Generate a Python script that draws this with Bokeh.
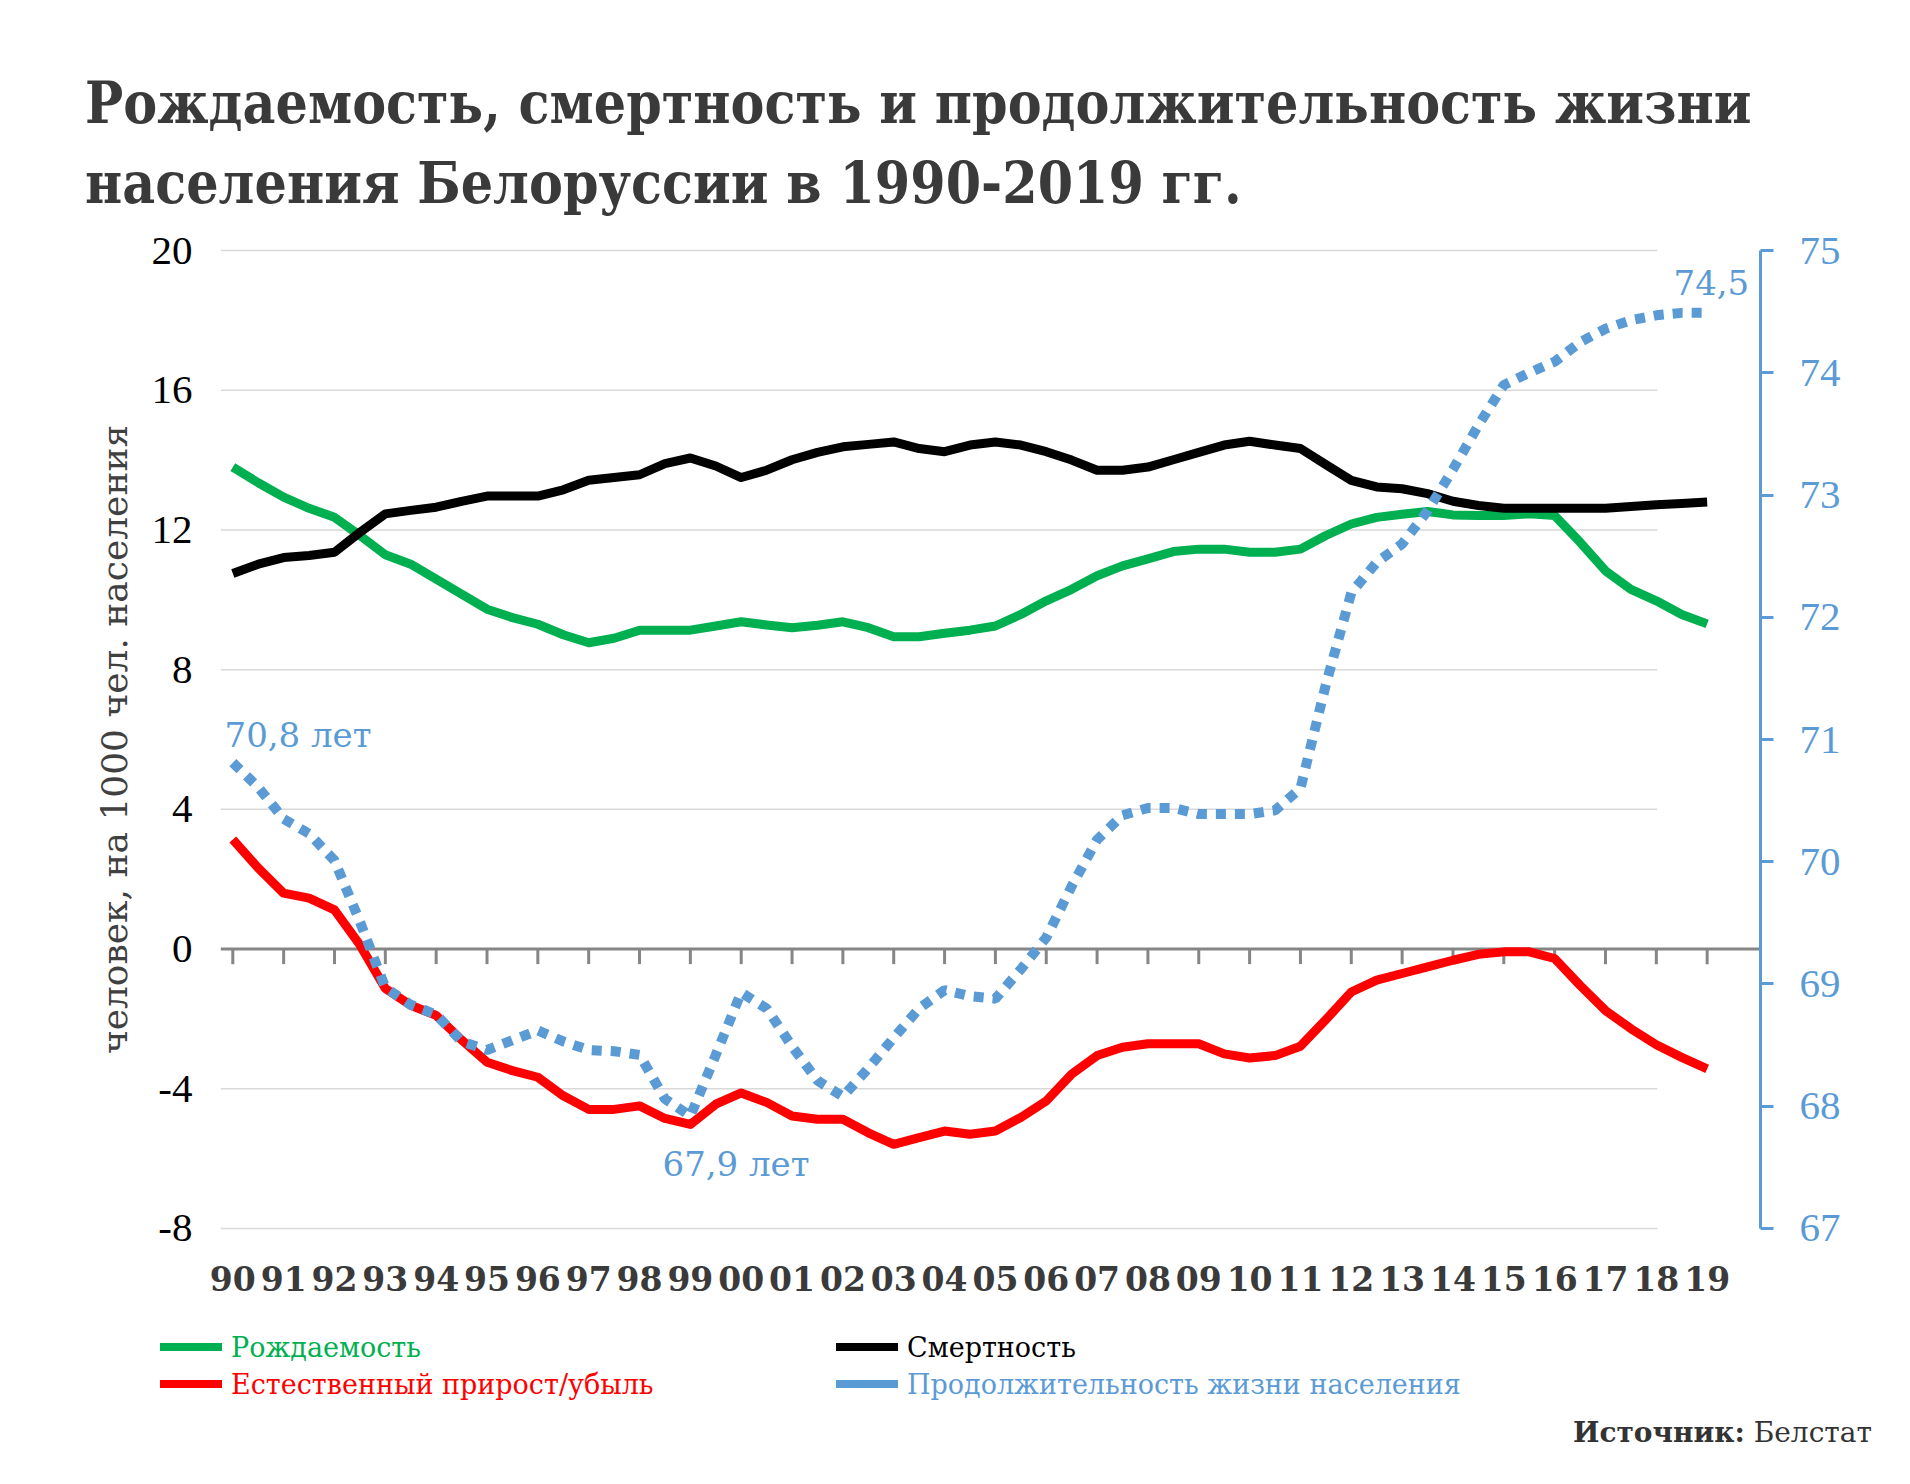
from bokeh.plotting import figure
from bokeh.layouts import column
from bokeh.models import (Range1d, LinearAxis, FixedTicker, Span, Label, Div)
from bokeh.embed import file_html
from bokeh.resources import INLINE

# ---------------- data ----------------
years = list(range(1990, 2020))
year_labels = ["90", "91", "92", "93", "94", "95", "96", "97", "98", "99",
               "00", "01", "02", "03", "04", "05", "06", "07", "08", "09",
               "10", "11", "12", "13", "14", "15", "16", "17", "18", "19"]
# half-year sampling points 1990.0 ... 2019.0
periods = [1990 + 0.5 * i for i in range(59)]

birth = [13.8, 13.35, 12.94, 12.62, 12.36, 11.84, 11.29, 11.02, 10.59, 10.16,
         9.73, 9.49, 9.3, 9.0, 8.77, 8.9, 9.13, 9.13, 9.13, 9.25,
         9.37, 9.28, 9.2, 9.27, 9.37, 9.2, 8.94, 8.94, 9.04, 9.13,
         9.25, 9.58, 9.97, 10.3, 10.69, 10.97, 11.17, 11.38, 11.45, 11.45,
         11.36, 11.36, 11.45, 11.84, 12.17, 12.36, 12.45, 12.53, 12.43, 12.41,
         12.41, 12.46, 12.41, 11.65, 10.83, 10.3, 9.97, 9.58, 9.31]

death = [10.75, 11.02, 11.21, 11.27, 11.36, 11.93, 12.46, 12.56, 12.65, 12.82,
         12.97, 12.97, 12.97, 13.15, 13.42, 13.5, 13.58, 13.9, 14.06, 13.83,
         13.5, 13.71, 14.01, 14.22, 14.38, 14.45, 14.52, 14.33, 14.24, 14.43,
         14.52, 14.43, 14.24, 14.0, 13.71, 13.71, 13.8, 14.01, 14.22, 14.43,
         14.54, 14.43, 14.33, 13.87, 13.42, 13.23, 13.18, 13.04, 12.82, 12.7,
         12.62, 12.62, 12.62, 12.62, 12.62, 12.67, 12.72, 12.76, 12.8]

natural = [3.14, 2.32, 1.6, 1.46, 1.12, 0.12, -1.13, -1.61, -1.9, -2.6,
           -3.24, -3.48, -3.67, -4.2, -4.59, -4.59, -4.49, -4.85, -5.02, -4.44,
           -4.12, -4.39, -4.78, -4.87, -4.87, -5.26, -5.59, -5.4, -5.21, -5.3,
           -5.21, -4.82, -4.35, -3.58, -3.05, -2.81, -2.71, -2.71, -2.71, -3.0,
           -3.12, -3.05, -2.78, -2.02, -1.23, -0.89, -0.7, -0.51, -0.32, -0.15,
           -0.08, -0.08, -0.27, -1.04, -1.76, -2.28, -2.74, -3.1, -3.43]

life = [70.81, 70.61, 70.35, 70.23, 70.01, 69.51, 68.97, 68.83, 68.75, 68.53,
        68.46, 68.54, 68.62, 68.53, 68.46, 68.45, 68.42, 68.06, 67.92, 68.42,
        68.93, 68.8, 68.49, 68.21, 68.08, 68.31, 68.56, 68.8, 68.95, 68.9,
        68.88, 69.12, 69.38, 69.8, 70.18, 70.38, 70.44, 70.44, 70.39, 70.39,
        70.39, 70.42, 70.6, 71.45, 72.2, 72.45, 72.6, 72.87, 73.21, 73.57,
        73.9, 74.0, 74.09, 74.25, 74.36, 74.43, 74.47, 74.49, 74.49]

left_ticks = [-8, -4, 0, 4, 8, 12, 16, 20]
left_tick_labels = ["-8", "-4", "0", "4", "8", "12", "16", "20"]
right_ticks = [67, 68, 69, 70, 71, 72, 73, 74, 75]
right_tick_labels = ["67", "68", "69", "70", "71", "72", "73", "74", "75"]
grid_levels = [-8, -4, 4, 8, 12, 16, 20]

series_names = ["Рождаемость", "Смертность",
                "Естественный прирост/убыль",
                "Продолжительность жизни населения"]
annotations = ["70,8 лет", "67,9 лет", "74,5"]
title_lines = ["Рождаемость, смертность и продолжительность жизни",
               "населения Белоруссии в 1990-2019 гг."]
y_title = "человек, на 1000 чел. населения"
source_bold = "Источник:"
source_text = "Белстат"

GREEN, BLACK, RED, BLUE = "#00B050", "#000000", "#FF0000", "#5B9BD5"
series_colors = [GREEN, BLACK, RED, BLUE]
GRID, AXIS = "#D9D9D9", "#868686"
SERIF = "DejaVu Serif"
NUMF = "Liberation Serif"

W = 1894
TOP_H = 216          # page y 0..216
MAIN_TOP = 216
FRAME_TOP, FRAME_BOT = 250, 1228
MAIN_H = 1300 - MAIN_TOP   # page y 216..1300
BOT_TOP, BOT_H = 1300, 176

# ---------------- title (HTML) ----------------
title_style = ("position:absolute;left:85px;top:{top}px;font-family:'DejaVu Serif';"
               "font-weight:bold;font-size:57px;line-height:1;color:#3a3a3a;"
               "white-space:nowrap;transform:scaleX(0.893);transform-origin:0 0;")
title_html = f'<div style="position:relative;width:{W}px;height:{TOP_H}px;margin:0;padding:0;">'
for txt, base in zip(title_lines, [122, 202]):
    title_html += f'<div style="{title_style.format(top=round(base - 48.2, 1))}">{txt}</div>'
title_html += "</div>"
top = Div(text=title_html, width=W, height=TOP_H, margin=0)

# ---------------- main chart ----------------
p = figure(width=W, height=MAIN_H, output_backend="svg", toolbar_location=None,
           x_range=Range1d(1989.758, 2020.049),
           y_range=Range1d(-8.0575, 20.0575),
           min_border_left=220, min_border_right=W - 1760,
           min_border_top=FRAME_TOP - MAIN_TOP - 2,
           min_border_bottom=MAIN_H - (FRAME_BOT - MAIN_TOP) - 2)
p.extra_y_ranges = {"le": Range1d(66.98357, 75.01643)}
p.outline_line_color = None
p.xgrid.visible = False
p.ygrid.visible = False

PX_PER_YEAR = 50.84
PX_PER_UNIT = 34.7857


def X(px):
    return 1990 + (px - 232.3) / PX_PER_YEAR


def Y(py):
    return 20 - (py - 252) / PX_PER_UNIT


gx0, gx1 = 1989.758, 2018.02
p.segment(x0=[gx0] * len(grid_levels), y0=grid_levels,
          x1=[gx1] * len(grid_levels), y1=grid_levels,
          line_color=GRID, line_width=1.5)

zero = Span(location=0, dimension="width", line_color=AXIS, line_width=3,
            level="underlay")
p.add_layout(zero)
tick_len = 15 / PX_PER_UNIT
p.segment(x0=years, y0=[0] * len(years), x1=years, y1=[-tick_len] * len(years),
          line_color=AXIS, line_width=3)

p.line(periods, birth, line_color=GREEN, line_width=9, line_join="round")
p.line(periods, death, line_color=BLACK, line_width=9, line_join="round")
p.line(periods, natural, line_color=RED, line_width=9, line_join="round")
p.line(periods, life, y_range_name="le", line_color=BLUE, line_width=10,
       line_dash="10 9", line_cap="butt")

ya = p.yaxis[0]
ya.ticker = FixedTicker(ticks=left_ticks)
ya.major_label_overrides = dict(zip(left_ticks, left_tick_labels))
ya.axis_line_color = None
ya.major_tick_line_color = None
ya.minor_tick_line_color = None
ya.major_tick_out = 0
ya.major_label_standoff = 28
ya.major_label_text_font = NUMF
ya.major_label_text_font_size = "41px"
ya.major_label_text_color = "#000000"
ya.axis_label = y_title
ya.axis_label_text_font = SERIF
ya.axis_label_text_font_style = "normal"
ya.axis_label_text_font_size = "36px"
ya.axis_label_text_color = "#404040"
ya.axis_label_standoff = 14

xa = p.xaxis[0]
xa.ticker = FixedTicker(ticks=years)
xa.major_label_overrides = dict(zip(years, year_labels))
xa.axis_line_color = None
xa.major_tick_line_color = None
xa.minor_tick_line_color = None
xa.major_tick_out = 0
xa.major_label_standoff = 35
xa.major_label_text_font = SERIF
xa.major_label_text_font_style = "bold"
xa.major_label_text_font_size = "33px"
xa.major_label_text_color = "#3a3a3a"

ra = LinearAxis(y_range_name="le", ticker=FixedTicker(ticks=right_ticks),
                bounds=(67, 75))
ra.major_label_overrides = dict(zip(right_ticks, right_tick_labels))
ra.axis_line_color = BLUE
ra.axis_line_width = 3
ra.major_tick_line_color = BLUE
ra.major_tick_line_width = 3
ra.major_tick_out = 13
ra.major_tick_in = 0
ra.minor_tick_line_color = None
ra.major_label_standoff = 26
ra.major_label_text_font = NUMF
ra.major_label_text_font_size = "41px"
ra.major_label_text_color = BLUE
p.add_layout(ra, "right")

for txt, px, cy in zip(annotations, [224, 662, 1673], [735, 1162, 284]):
    p.add_layout(Label(x=X(px), y=Y(cy), text=txt, text_font=SERIF,
                       text_font_size="34px", text_color=BLUE,
                       text_baseline="middle", text_align="left"))

# ---------------- legend + source (HTML) ----------------
leg_pos = [(160, 1347), (836, 1347), (160, 1384), (836, 1384)]
bot_html = f'<div style="position:relative;width:{W}px;height:{BOT_H}px;margin:0;padding:0;">'
for name, col, (lx, cy) in zip(series_names, series_colors, leg_pos):
    bot_html += (
        f'<div style="position:absolute;left:{lx}px;top:{cy - 17 - BOT_TOP}px;height:34px;'
        'display:flex;align-items:center;white-space:nowrap;">'
        f'<span style="display:inline-block;width:62px;height:8px;background:{col};"></span>'
        f'<span style="margin-left:9px;font-family:\'DejaVu Serif\';font-size:27px;'
        f'line-height:1;color:{col};">{name}</span></div>'
    )
bot_html += (
    f'<div style="position:absolute;right:22px;top:{round(1443 - BOT_TOP - 23.7, 1)}px;'
    "font-family:'DejaVu Serif';font-size:28px;line-height:1;color:#333333;"
    f'white-space:nowrap;"><b>{source_bold}</b> {source_text}</div>'
)
bot_html += "</div>"
bot = Div(text=bot_html, width=W, height=BOT_H, margin=0)

layout = column(top, p, bot, spacing=0)
open("out.html", "w").write(file_html(layout, INLINE))
